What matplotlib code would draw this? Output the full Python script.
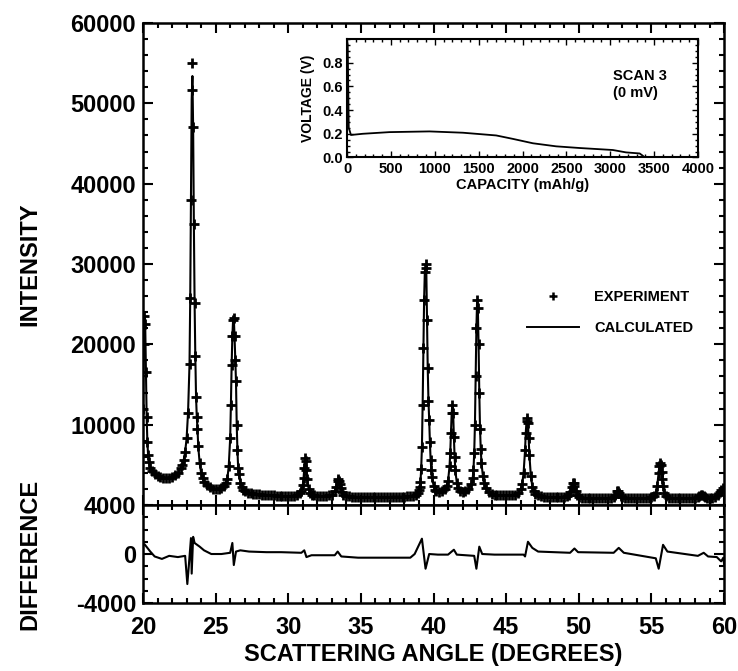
import matplotlib
matplotlib.use("Agg")
import matplotlib.pyplot as plt
from matplotlib.ticker import MultipleLocator
from matplotlib.lines import Line2D
import numpy as np

plt.rcParams['font.family'] = ['Liberation Sans', 'DejaVu Sans']
plt.rcParams['font.weight'] = 'bold'
plt.rcParams['axes.unicode_minus'] = False

two_theta = [
    20.00, 20.05, 20.10, 20.15, 20.20, 20.25, 20.30, 20.35, 20.40, 20.50, 20.60, 20.80,
    21.00, 21.20, 21.40, 21.60, 21.80, 22.00, 22.20, 22.40, 22.60,
    22.70, 22.80, 22.90, 23.00, 23.10, 23.20, 23.25, 23.30, 23.35, 23.40, 23.45, 23.50,
    23.55, 23.60, 23.65, 23.70, 23.75, 23.80, 23.90, 24.00, 24.10, 24.20, 24.40, 24.60,
    24.80, 25.00, 25.20, 25.40, 25.60, 25.70,
    25.80, 25.90, 26.00, 26.05, 26.10, 26.15, 26.20, 26.25, 26.30, 26.35, 26.40, 26.45,
    26.50, 26.55, 26.60, 26.70, 26.80, 26.90, 27.00, 27.20, 27.40, 27.60, 27.80, 28.00,
    28.20, 28.40, 28.60, 28.80, 29.00, 29.20, 29.40, 29.60, 29.80, 30.00, 30.20, 30.40,
    30.60, 30.80,
    30.90, 31.00, 31.05, 31.10, 31.15, 31.20, 31.25, 31.30, 31.40, 31.50, 31.60, 31.80,
    32.00, 32.20, 32.40, 32.60, 32.80, 33.00, 33.20, 33.30, 33.40, 33.45, 33.50, 33.55,
    33.60, 33.70, 33.80, 34.00, 34.20, 34.40, 34.60, 34.80, 35.00, 35.20, 35.40, 35.60,
    35.80, 36.00, 36.20, 36.40, 36.60, 36.80, 37.00, 37.20, 37.40, 37.60, 37.80, 38.00,
    38.20, 38.40, 38.60, 38.80, 38.90, 39.00,
    39.05, 39.10, 39.15, 39.20, 39.25, 39.30, 39.35, 39.40, 39.45, 39.50, 39.55, 39.60,
    39.65, 39.70, 39.75, 39.80, 39.85, 39.90, 40.00, 40.10, 40.20, 40.40, 40.60, 40.80,
    40.90, 41.00, 41.10, 41.15, 41.20, 41.25, 41.30, 41.35, 41.40, 41.45, 41.50, 41.60,
    41.70, 41.80, 42.00, 42.20, 42.40,
    42.60, 42.70, 42.75, 42.80, 42.85, 42.90, 42.95, 43.00, 43.05, 43.10, 43.15, 43.20,
    43.25, 43.30, 43.40, 43.50, 43.60, 43.80, 44.00, 44.20, 44.40, 44.60, 44.80, 45.00,
    45.20, 45.40, 45.60, 45.80, 46.00, 46.10, 46.20, 46.30, 46.35, 46.40, 46.45, 46.50,
    46.55, 46.60, 46.70, 46.80, 46.90, 47.00, 47.20, 47.40, 47.60, 47.80, 48.00, 48.20,
    48.40, 48.60, 48.80, 49.00, 49.20, 49.30, 49.40, 49.50, 49.60, 49.65, 49.70, 49.80,
    49.90, 50.00, 50.20, 50.40, 50.60, 50.80, 51.00, 51.20, 51.40, 51.60, 51.80, 52.00,
    52.20, 52.40, 52.50, 52.60, 52.70, 52.80, 52.90, 53.00, 53.20, 53.40, 53.60, 53.80,
    54.00, 54.20, 54.40, 54.60, 54.80, 55.00, 55.20, 55.30, 55.40, 55.50, 55.55, 55.60,
    55.65, 55.70, 55.75, 55.80, 55.90, 56.00, 56.20, 56.40, 56.60, 56.80, 57.00, 57.20,
    57.40, 57.60, 57.80, 58.00, 58.20, 58.30, 58.40, 58.50, 58.60, 58.70, 58.80, 59.00,
    59.20, 59.40, 59.60, 59.70, 59.80, 59.90, 60.00,
]
counts = [
    12000, 20000, 23500, 22500, 16500, 11000, 7800, 6200, 5300, 4600, 4200, 3800,
    3600, 3500, 3400, 3400, 3400, 3500, 3700, 4000, 4600,
    5000, 5600, 6600, 8300, 11500, 17500, 25800, 38000, 51600, 55000, 47000, 35000,
    25200, 18500, 13500, 11000, 9500, 7300, 5200, 4000, 3300, 2900, 2500, 2200,
    2000, 2000, 2000, 2100, 2400, 2800,
    3200, 4800, 8300, 12500, 17400, 21000, 23000, 23300, 21000, 18000, 15400, 10000,
    6800, 4600, 3800, 2800, 2200, 1900, 1700, 1500, 1450, 1400, 1400, 1350,
    1300, 1300, 1250, 1250, 1200, 1150, 1150, 1100, 1100, 1100, 1100, 1150,
    1250, 1500,
    1800, 2500, 3300, 4600, 5800, 5500, 4300, 3200, 2000, 1500, 1300, 1200,
    1100, 1100, 1100, 1100, 1200, 1300, 1700, 2200, 3000, 3200, 3000, 2600,
    2100, 1600, 1300, 1150, 1100, 1050, 1050, 1000, 1000, 1000, 1000, 1000,
    1000, 1000, 1000, 1000, 1000, 1000, 1000, 1050, 1050, 1050, 1050, 1050,
    1100, 1100, 1150, 1300, 1500, 1900,
    2300, 2900, 4500, 7200, 12500, 19500, 25500, 29000, 30000, 29500, 23000, 17000,
    13000, 10600, 7800, 5600, 4400, 3500, 2400, 1900, 1700, 1600, 1700, 2000,
    2400, 3000, 4800, 6500, 9000, 11500, 12500, 11500, 8500, 6000, 4300, 2800,
    2100, 1800, 1600, 1700, 2000,
    2600, 3400, 4400, 6500, 10000, 16000, 22000, 25500, 24500, 20000, 14000, 9500,
    7000, 5200, 3600, 2700, 2100, 1600, 1400, 1300, 1250, 1200, 1200, 1200,
    1200, 1250, 1300, 1500, 2000, 2600, 4000, 6800, 9000, 10400, 10800, 10200,
    8300, 6200, 3600, 2300, 1700, 1400, 1200, 1100, 1050, 1000, 1000, 1000,
    950, 950, 950, 1000, 1100, 1300, 1600, 2200, 2700, 2700, 2400, 1700,
    1200, 1000, 900, 850, 850, 850, 850, 850, 850, 850, 850, 850,
    900, 1000, 1300, 1700, 1800, 1500, 1100, 950, 850, 850, 850, 850,
    850, 850, 850, 850, 900, 950, 1100, 1500, 2400, 4000, 4900, 5200,
    5000, 4100, 3200, 2400, 1500, 1100, 900, 850, 850, 850, 850, 850,
    850, 850, 850, 850, 950, 1100, 1300, 1300, 1100, 950, 850, 850,
    900, 1000, 1300, 1600, 1900, 2100, 1700,
]
# calculated profile differs from the observed one only at the strongest peak top
calc_overrides = {23.35: 50500, 23.40: 53400}

# difference curve (obs - calc)
diff_angle = [
    20.00, 20.10, 20.30, 20.50, 20.80, 21.30, 21.80, 22.40, 22.90, 23.05, 23.15, 23.30,
    23.35, 23.45, 23.55, 23.90, 24.20, 24.70, 25.40, 26.00, 26.15, 26.25, 26.40, 26.70,
    27.30, 28.50, 29.50, 30.90, 31.10, 31.25, 31.60, 32.50, 33.20, 33.40, 33.65, 34.80,
    36.50, 38.40, 38.70, 39.20, 39.45, 39.70, 40.30, 41.00, 41.40, 41.60, 42.80, 42.95,
    43.15, 43.35, 44.20, 46.20, 46.30, 46.50, 46.80, 47.20, 49.40, 49.70, 49.95, 52.40,
    52.75, 53.10, 55.30, 55.50, 55.80, 56.10, 58.20, 58.60, 58.90, 59.50, 59.80, 59.95,
    60.00,
]
diff_counts = [
    700, 800, 500, 200, -200, -400, -150, -250, -150, -2450, -1000, 1300,
    -1600, 1400, 900, 600, 300, 0, 0, 100, 900, -900, 200, 300,
    200, 150, 150, 100, 300, -250, -100, -100, -100, 200, -200, -300,
    -300, -300, 0, 1250, -1200, 0, -50, -50, 350, -50, -150, -1200,
    600, 0, -50, -50, -200, 1000, 500, 200, 100, 450, 150, 100,
    500, 100, -350, -1200, 750, 200, -150, 100, -200, -250, -600, -300,
    -800,
]

# inset: scan 3 voltage profile
capacity = [0, 8, 20, 45, 180, 483, 940, 1320, 1700, 1890, 2118, 2384, 2650, 3030,
            3180, 3335, 3372, 3390]
voltage = [0.98, 0.95, 0.25, 0.19, 0.20, 0.214, 0.22, 0.209, 0.186, 0.157, 0.12, 0.094,
           0.08, 0.063, 0.043, 0.034, 0.014, 0.0]

x_obs = np.array(two_theta)
y_obs = np.array(counts, dtype=float)
y_calc = y_obs.copy()
for ang, val in calc_overrides.items():
    y_calc[np.isclose(x_obs, ang)] = val

fig = plt.figure(figsize=(7.38, 6.71), dpi=100)
ax = fig.add_axes([0.1938, 0.2474, 0.7873, 0.7183])
ax2 = fig.add_axes([0.1938, 0.1013, 0.7873, 0.1461], sharex=ax)
ins = fig.add_axes([0.4702, 0.7653, 0.4756, 0.1766])

ax.plot(x_obs, y_calc, color='black', lw=1.5, zorder=2)
ax.plot(x_obs, y_obs, ls='none', marker='+', ms=7, mew=2.0, color='black', zorder=3)
ax.set_xlim(20, 60)
ax.set_ylim(0, 60000)
ax.set_yticks([10000, 20000, 30000, 40000, 50000, 60000])
ax.yaxis.set_minor_locator(MultipleLocator(2000))
ax.xaxis.set_major_locator(MultipleLocator(5))
ax.xaxis.set_minor_locator(MultipleLocator(1))
ax.tick_params(labelbottom=False)
ax.set_ylabel('INTENSITY', fontsize=17, fontweight='bold')

ax2.plot(diff_angle, diff_counts, color='black', lw=1.5)
ax2.set_ylim(-4000, 4000)
ax2.set_yticks([-4000, 0, 4000])
ax2.yaxis.set_minor_locator(MultipleLocator(1000))
ax2.set_xlabel('SCATTERING ANGLE (DEGREES)', fontsize=17, fontweight='bold', labelpad=3)
ax2.set_ylabel('DIFFERENCE', fontsize=17, fontweight='bold')

for a in (ax, ax2):
    a.tick_params(which='both', direction='in', top=True, right=True, width=1.5,
                  labelsize=17, pad=5)
    a.tick_params(which='major', length=7)
    a.tick_params(which='minor', length=3.5)
    for s in a.spines.values():
        s.set_linewidth(1.8)
    for lab in a.get_xticklabels() + a.get_yticklabels():
        lab.set_fontweight('bold')
ax2.tick_params(axis='x', pad=9)

ax.yaxis.set_label_coords(-0.175, 0.5)
ax2.yaxis.set_label_coords(-0.175, 0.5)

leg_handles = [Line2D([], [], ls='none', marker='+', ms=6, mew=1.8, color='black'),
               Line2D([], [], color='black', lw=1.4)]
ax.legend(leg_handles, ['EXPERIMENT', 'CALCULATED'], loc='upper left',
          bbox_to_anchor=(0.714, 0.568), bbox_transform=fig.transFigure,
          frameon=False, handlelength=3.6, handletextpad=1.0,
          labelspacing=1.2, borderpad=0, borderaxespad=0,
          prop={'weight': 'bold', 'size': 10.5})

# inset
ins.plot(capacity, voltage, color='black', lw=1.3)
ins.set_xlim(0, 4000)
ins.set_ylim(0, 1.0)
ins.set_yticks([0.0, 0.2, 0.4, 0.6, 0.8])
ins.yaxis.set_minor_locator(MultipleLocator(0.05))
ins.xaxis.set_major_locator(MultipleLocator(500))
ins.xaxis.set_minor_locator(MultipleLocator(100))
ins.tick_params(which='both', direction='in', top=True, right=True, width=1.0,
                labelsize=10.5, pad=3)
ins.tick_params(which='major', length=4)
ins.tick_params(which='minor', length=2)
for s in ins.spines.values():
    s.set_linewidth(1.5)
for lab in ins.get_xticklabels() + ins.get_yticklabels():
    lab.set_fontweight('bold')
ins.set_xlabel('CAPACITY (mAh/g)', fontsize=10.5, fontweight='bold', labelpad=2)
ins.set_ylabel('VOLTAGE (V)', fontsize=10, fontweight='bold', labelpad=5)
ins.text(0.758, 0.75, 'SCAN 3\n(0 mV)', transform=ins.transAxes, ha='left', va='top',
         fontsize=10.5, fontweight='bold', linespacing=1.3)

fig.savefig('out.png', dpi=100)
